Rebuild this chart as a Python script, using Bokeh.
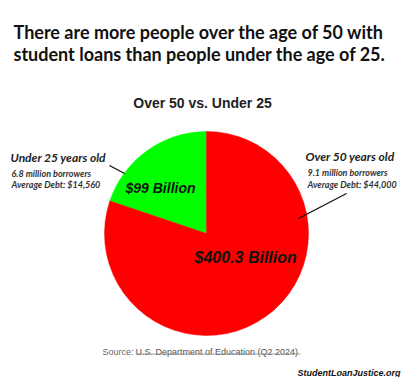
import math
from bokeh.plotting import figure
from bokeh.models import Range1d
from bokeh.core.properties import value
from bokeh.embed import file_html
from bokeh.resources import INLINE

# ---- data ----
groups = ["Under 25 years old", "Over 50 years old"]
debt_billions = [99.0, 400.3]
borrowers = ["6.8 million borrowers", "9.1 million borrowers"]
avg_debt = ["Average Debt: $14,560", "Average Debt: $44,000"]
value_labels = ["$99 Billion", "$400.3 Billion"]
colors = ["#00FF00", "#FF0000"]

W, H = 406, 377
p = figure(width=W, height=H, output_backend="svg", toolbar_location=None,
           x_range=Range1d(0, W), y_range=Range1d(0, H), min_border=0,
           background_fill_color="white", border_fill_color="white")
p.axis.visible = False
p.grid.visible = False
p.outline_line_color = None


def X(sx):
    return sx


def Y(sy):
    return H - sy


# pie
cx, cy, r = X(206), Y(233), 102
total = sum(debt_billions)
start = math.pi / 2
starts, ends = [], []
for v in debt_billions:
    a = 2 * math.pi * v / total
    starts.append(start)
    ends.append(start + a)
    start += a
p.wedge(x=[cx] * 2, y=[cy] * 2, radius=r, start_angle=starts, end_angle=ends,
        direction="anticlock", fill_color=colors, line_color=colors, line_width=0.5)

LS = value("Liberation Sans")
LATO = value("Lato")

# title
p.text(x=[X(13), X(13)], y=[Y(31), Y(53)],
       text=["There are more people over the age of 50 with",
             "student loans than people under the age of 25."],
       text_font=LATO, text_font_size="18px", text_font_style="bold",
       text_color="#111111", text_baseline="alphabetic")

# subtitle
p.text(x=[X(202)], y=[Y(102)], text=["Over 50 vs. Under 25"], text_font=LS,
       text_font_size="14px", text_font_style="bold", text_color="#222222",
       text_align="center", text_baseline="alphabetic")

# left label
p.text(x=[X(10)], y=[Y(157)], text=[groups[0]], text_font=LATO, text_font_size="12px",
       text_font_style="bold italic", text_color="#222222", text_baseline="alphabetic")
p.text(x=[X(11), X(11)], y=[Y(173), Y(184)], text=[borrowers[0], avg_debt[0]],
       text_font=LATO, text_font_size="9px", text_font_style="bold italic",
       text_color="#333333", text_baseline="alphabetic")
# right label
p.text(x=[X(305)], y=[Y(156)], text=[groups[1]], text_font=LATO, text_font_size="12px",
       text_font_style="bold italic", text_color="#222222", text_baseline="alphabetic")
p.text(x=[X(307), X(307)], y=[Y(172), Y(184)], text=[borrowers[1], avg_debt[1]],
       text_font=LATO, text_font_size="9px", text_font_style="bold italic",
       text_color="#333333", text_baseline="alphabetic")

# leader lines
p.segment(x0=[X(109), X(346)], y0=[Y(165), Y(193)], x1=[X(124), X(298)], y1=[Y(173), Y(218)],
          line_color="#111111", line_width=1.3)

# values in slices
p.text(x=[X(125)], y=[Y(187)], text=[value_labels[0]], text_font=LS, text_font_size="14px",
       text_font_style="bold italic", text_color="#111111", text_baseline="alphabetic")
p.text(x=[X(194)], y=[Y(257)], text=[value_labels[1]], text_font=LS, text_font_size="16px",
       text_font_style="bold italic", text_color="#111111", text_baseline="alphabetic")

# source
p.text(x=[X(102)], y=[Y(351)], text=["Source:"], text_font=LS, text_font_size="9px",
       text_color="#666666", text_baseline="alphabetic")
p.text(x=[X(135)], y=[Y(351)], text=["U.S. Department of Education (Q2 2024)"],
       text_font=LS, text_font_size="9px", text_color="#555555",
       text_baseline="alphabetic")
p.segment(x0=[X(135)], y0=[Y(353.5)], x1=[X(300)], y1=[Y(353.5)], line_color="#888888",
          line_width=0.8)

p.text(x=[X(400)], y=[Y(372)], text=["StudentLoanJustice.org"], text_font=LS, text_font_size="9px",
       text_font_style="bold italic", text_color="#111111", text_align="right",
       text_baseline="alphabetic")

open("out.html", "w").write(file_html(p, INLINE))
